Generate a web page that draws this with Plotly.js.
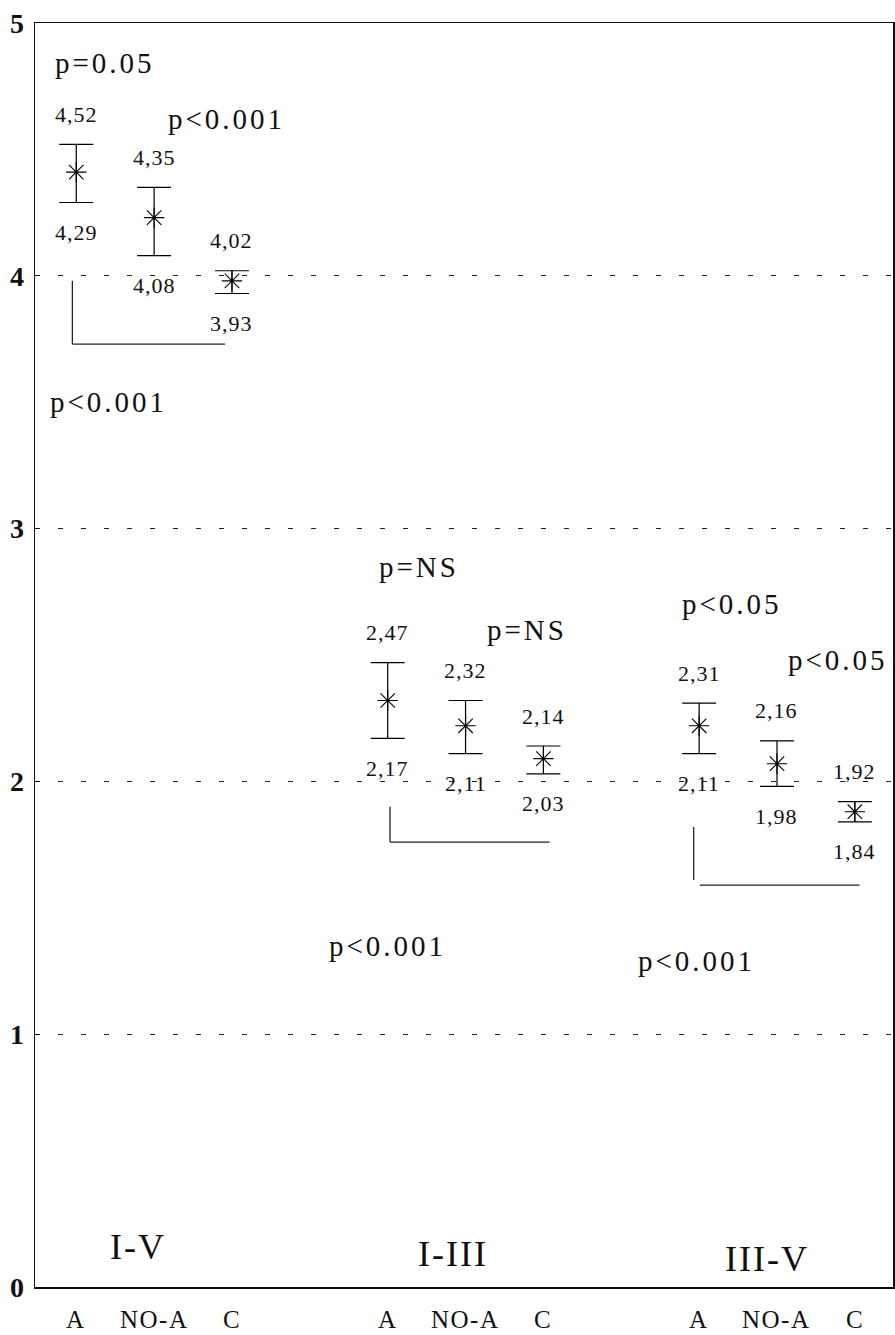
<!DOCTYPE html>
<html>
<head>
<meta charset="utf-8">
<script src="https://cdn.plot.ly/plotly-3.0.1.min.js"></script>
<style>
  html, body { margin: 0; padding: 0; background: #fff; }
  #chart { width: 895px; height: 1335px; }
  /* wider typesetting of the printed labels */
  text.annotation-text[style*="font-size: 22px"] { letter-spacing: 1px; }
  text.annotation-text[style*="font-size: 25px"] { letter-spacing: 1.5px; }
  text.annotation-text[style*="font-size: 29px"] { letter-spacing: 3px; }
  text.annotation-text[style*="font-size: 36px"] { letter-spacing: 2px; }
</style>
</head>
<body>
<div id="chart"></div>
<script>
// Wave intervals and subject groups
const groups = ['I-V', 'I-III', 'III-V'];
const categories = ['A', 'NO-A', 'C'];

// Mean latency per group/category, with the upper and lower limits printed beside each bar
const means = [4.41, 4.23, 3.98, 2.32, 2.22, 2.09, 2.22, 2.07, 1.88];
const upper = [4.52, 4.35, 4.02, 2.47, 2.32, 2.14, 2.31, 2.16, 1.92];
const lower = [4.29, 4.08, 3.93, 2.17, 2.11, 2.03, 2.11, 1.98, 1.84];

// Significance notes
const pTexts = ['p=0.05', 'p<0.001', 'p<0.001', 'p=NS', 'p=NS', 'p<0.001', 'p<0.05', 'p<0.05', 'p<0.001'];

const yTicks = [0, 1, 2, 3, 4, 5];

// ---- layout helpers ----
const SERIF = 'Liberation Serif, Times New Roman, serif';
const xs = [];
const tickText = [];
groups.forEach((g, gi) => categories.forEach((c, ci) => {
  xs.push(gi * 4 + ci);
  tickText.push(c);
}));

const comma = v => v.toFixed(2).replace('.', ',');

const trace = {
  type: 'scatter',
  mode: 'markers',
  x: xs,
  y: means,
  marker: {
    symbol: 'asterisk-open',
    size: 17,
    color: '#000',
    line: { color: '#000', width: 1.1 }
  },
  error_y: {
    type: 'data',
    symmetric: false,
    array: upper.map((u, i) => u - means[i]),
    arrayminus: lower.map((l, i) => means[i] - l),
    color: '#000',
    thickness: 1.2,
    width: 17
  },
  hoverinfo: 'skip',
  showlegend: false
};

const annotations = [];

// limit labels above / below each error bar
xs.forEach((x, i) => {
  annotations.push({
    x: x, y: upper[i], xref: 'x', yref: 'y', text: comma(upper[i]),
    showarrow: false, yshift: 30, xanchor: 'center', yanchor: 'middle',
    font: { family: SERIF, size: 22, color: '#111' }
  });
  annotations.push({
    x: x, y: lower[i], xref: 'x', yref: 'y', text: comma(lower[i]),
    showarrow: false, yshift: -30, xanchor: 'center', yanchor: 'middle',
    font: { family: SERIF, size: 22, color: '#111' }
  });
});

// category names under the axis, one per error bar
xs.forEach((x, i) => {
  annotations.push({
    x: x, y: 0, xref: 'x', yref: 'paper', text: tickText[i],
    showarrow: false, yshift: -32, xanchor: 'center', yanchor: 'middle',
    font: { family: SERIF, size: 25, color: '#111' }
  });
});

// placement of the significance notes
const pPlaces = [
  [0.37, 4.84], [1.93, 4.62], [0.42, 3.50],
  [4.40, 2.85], [5.79, 2.60], [4.00, 1.35],
  [8.42, 2.70], [9.78, 2.48], [7.97, 1.29]
];
pTexts.forEach((t, i) => {
  annotations.push({
    x: pPlaces[i][0], y: pPlaces[i][1], xref: 'x', yref: 'y', text: t,
    showarrow: false, xanchor: 'center', yanchor: 'middle',
    font: { family: SERIF, size: 29, color: '#111' }
  });
});

// group captions inside the plot
const groupPlaces = [[0.79, 0.16], [4.84, 0.13], [8.87, 0.11]];
groups.forEach((g, i) => {
  annotations.push({
    x: groupPlaces[i][0], y: groupPlaces[i][1], xref: 'x', yref: 'y', text: g,
    showarrow: false, xanchor: 'center', yanchor: 'middle',
    font: { family: SERIF, size: 36, color: '#111' }
  });
});

// comparison brackets
const lineStyle = { color: '#222', width: 1.3 };
const seg = (x0, y0, x1, y1) => ({ type: 'line', xref: 'x', yref: 'y', x0, y0, x1, y1, line: lineStyle });
const shapes = [
  seg(-0.05, 3.98, -0.05, 3.73), seg(-0.05, 3.73, 1.91, 3.73),
  seg(4.03, 1.90, 4.03, 1.76), seg(4.03, 1.76, 6.08, 1.76),
  seg(7.93, 1.82, 7.93, 1.61), seg(8.01, 1.59, 10.06, 1.59)
];

const layout = {
  width: 895,
  height: 1335,
  margin: { l: 35, r: 2, t: 23, b: 48 },
  paper_bgcolor: '#fff',
  plot_bgcolor: '#fff',
  showlegend: false,
  xaxis: {
    range: [-0.53, 10.49],
    tickvals: xs,
    showticklabels: false,
    ticks: '',
    showgrid: false,
    zeroline: false,
    showline: true,
    mirror: true,
    linecolor: '#111',
    linewidth: 1.5
  },
  yaxis: {
    range: [0, 5],
    tickvals: yTicks,
    ticktext: yTicks.map(String),
    ticks: 'inside',
    ticklen: 4,
    tickcolor: '#111',
    showgrid: true,
    gridcolor: '#222',
    gridwidth: 1.3,
    griddash: '5px,18px',
    zeroline: false,
    showline: true,
    mirror: true,
    linecolor: '#111',
    linewidth: 1.5,
    ticklabelstandoff: 4,
    tickfont: { family: SERIF, size: 28, color: '#111', weight: 'bold' }
  },
  annotations: annotations,
  shapes: shapes
};

Plotly.newPlot('chart', [trace], layout, { displayModeBar: false, staticPlot: true });
</script>
</body>
</html>
